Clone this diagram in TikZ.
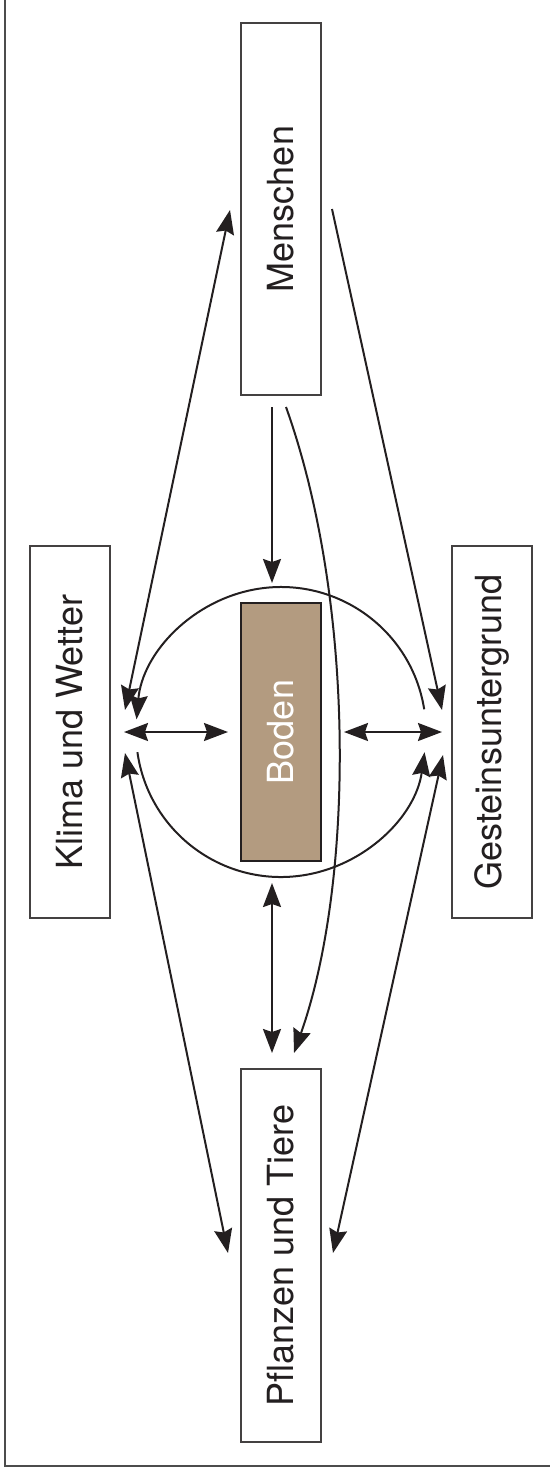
\documentclass[tikz,border=0pt]{standalone}
\usepackage{fontspec}
\setmainfont{TeX Gyre Heros}
\usetikzlibrary{arrows.meta}
\definecolor{bodenbraun}{RGB}{179,155,128}
\definecolor{tinte}{RGB}{35,31,32}

\begin{document}
\begin{tikzpicture}[
  x=1pt, y=-1pt,
  >={Stealth[length=24pt, width=18pt, inset=3pt]},
  feld/.style={rectangle, draw=tinte!85, line width=1.4pt, inner sep=0pt, minimum height=80pt, minimum width=372pt, rotate=90, text=tinte, font=\fontsize{36}{40}\selectfont},
  boden/.style={feld, fill=bodenbraun, draw=tinte, line width=2.4pt, minimum width=258pt, text=white},
  pfeil/.style={->, line width=2pt, draw=tinte, fill=tinte},
  doppelpfeil/.style={<->, line width=2pt, draw=tinte, fill=tinte},
  rahmen/.style={line width=1.6pt, draw=black!70}
]
\useasboundingbox (0,0) rectangle (550,1467);

% Rahmen
\draw[rahmen] (5,0) |- (550,1466);

% Felder
\node[feld] (menschen) at (281,209) {Menschen};
\node[feld] (klima) at (70,732) {Klima und Wetter};
\node[feld] (gestein) at (492,732) {Gesteinsuntergrund};
\node[boden] (boden) at (281,732) {Boden};
\node[feld, minimum width=373pt] (pflanzen) at (281,1255.5) {Pflanzen und Tiere};

% Pfeilenden
\coordinate (km-k) at (125,710);
\coordinate (km-m) at (230,210);
\coordinate (mg-m) at (332,209);
\coordinate (mg-g) at (442,710);
\coordinate (mb-m) at (272,407);
\coordinate (mb-b) at (272,583);
\coordinate (mp-m) at (286,407);
\coordinate (mp-p) at (294,1053);
\coordinate (bp-b) at (272,883);
\coordinate (bp-p) at (272,1053);
\coordinate (kp-k) at (125,753);
\coordinate (kp-p) at (228,1253);
\coordinate (gp-g) at (443,755);
\coordinate (gp-p) at (333,1253);
\coordinate (kb-k) at (124,732);
\coordinate (kb-b) at (228,732);
\coordinate (bg-b) at (344,732);
\coordinate (bg-g) at (442,732);

% Pfeile oben
\draw[doppelpfeil] (km-k) -- (km-m);
\draw[pfeil] (mg-m) -- (mg-g);
\draw[pfeil] (mb-m) -- (mb-b);
\draw[pfeil, fill=none] (mp-m) .. controls (355,600) and (355,880) .. (mp-p);

% Pfeile Mitte
\draw[doppelpfeil] (kb-k) -- (kb-b);
\draw[doppelpfeil] (bg-b) -- (bg-g);
\draw[pfeil, fill=none] (boden.center) ++(-9:145) arc[start angle=-9, end angle=-175, radius=145];
\draw[pfeil, fill=none] (boden.center) ++(172:145) arc[start angle=172, end angle=8, radius=145];

% Pfeile unten
\draw[doppelpfeil] (bp-b) -- (bp-p);
\draw[doppelpfeil] (kp-k) -- (kp-p);
\draw[doppelpfeil] (gp-g) -- (gp-p);

\end{tikzpicture}
\end{document}
